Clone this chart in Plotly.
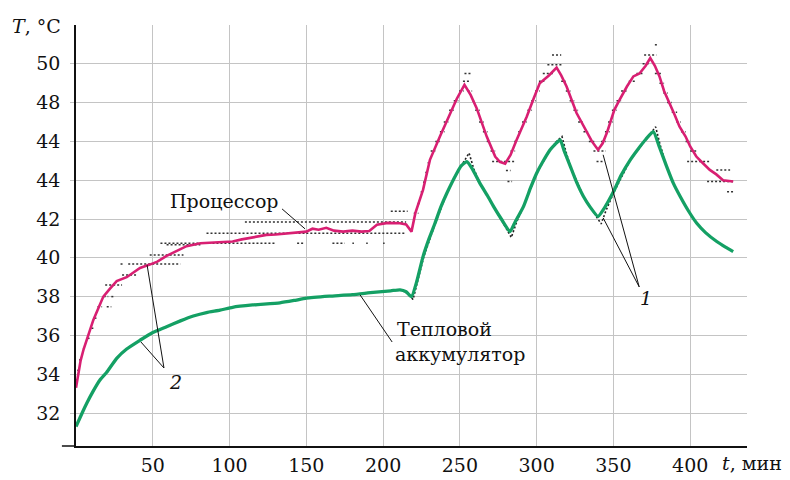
import plotly.graph_objects as go

# ---------------- data ----------------
# processor temperature (calculated, line 2)
proc_t = [0, 1.5, 3, 5, 7, 9, 11.3, 14, 17.8, 22, 26.5, 33, 38, 41.7, 48, 53, 59, 65, 72, 81, 90, 102,
          108, 111, 118, 124, 130, 137, 143, 150, 154, 158, 163, 168, 174, 180, 186, 191, 196, 203, 211,
          215, 218.5, 221, 226, 230.5, 237, 243.5, 248, 253, 257, 261, 267.5, 273, 276, 279.5, 283, 287,
          293.6, 298, 302, 308, 313, 316, 319.5, 326, 332.7, 336, 340, 343, 346, 350.6, 354, 358.8, 363,
          367, 371, 374, 377, 380, 383, 386.7, 390, 393, 397, 400, 404, 408, 412.8, 417, 421.4, 428]
proc_T = [33.3, 34.0, 34.7, 35.3, 35.76, 36.2, 36.8, 37.3, 38.0, 38.4, 38.8, 39.0, 39.3, 39.48, 39.65,
          39.8, 40.1, 40.35, 40.6, 40.75, 40.8, 40.84, 40.95, 41.0, 41.1, 41.18, 41.2, 41.25, 41.3, 41.35,
          41.5, 41.45, 41.55, 41.4, 41.35, 41.4, 41.35, 41.38, 41.7, 41.8, 41.78, 41.72, 41.35, 42.3, 43.5,
          45.05, 46.25, 47.46, 48.2, 48.92, 48.4, 47.7, 46.25, 45.22, 44.95, 44.85, 45.3, 46.08, 47.28,
          48.2, 49.0, 49.4, 49.8, 49.4, 48.83, 47.46, 46.43, 46.0, 45.57, 45.9, 46.5, 47.63, 48.14, 48.83,
          49.35, 49.5, 49.9, 50.3, 49.9, 49.35, 48.6, 47.97, 47.35, 46.77, 46.25, 45.74, 45.22, 44.9,
          44.53, 44.3, 44.0, 43.93]

# heat accumulator temperature (calculated, line 2)
acc_t = [0, 4, 7, 11, 15.6, 20, 26.5, 33, 41.7, 50, 59, 68, 76.4, 85, 93.8, 102, 115, 132.8, 142, 150,
         165, 180, 193.6, 205, 211, 215, 218.5, 222, 226, 230, 233.8, 237.5, 241.5, 248, 251, 254.5, 258,
         263, 268, 272, 277, 282.6, 286, 291.4, 296, 300, 304, 308.8, 312, 315.3, 318, 322, 326, 330.5,
         335, 340, 344, 350, 355, 361, 366, 371, 376, 380, 384.7, 389, 393.5, 399, 404.3, 410, 417.3,
         423, 428]
acc_T = [31.3, 32.0, 32.5, 33.1, 33.7, 34.1, 34.82, 35.3, 35.75, 36.15, 36.45, 36.75, 37.0, 37.18, 37.3,
         37.45, 37.57, 37.68, 37.8, 37.92, 38.02, 38.1, 38.22, 38.3, 38.35, 38.25, 38.0, 38.8, 40.06, 41.0,
         41.78, 42.6, 43.33, 44.36, 44.75, 44.96, 44.6, 43.85, 43.2, 42.64, 42.0, 41.35, 41.85, 42.64,
         43.6, 44.36, 44.95, 45.57, 45.85, 46.08, 45.5, 44.7, 43.9, 43.16, 42.6, 42.13, 42.55, 43.4,
         44.25, 45.05, 45.6, 46.1, 46.5, 45.7, 44.7, 43.85, 43.16, 42.4, 41.78, 41.3, 40.84, 40.55, 40.32]

# measured accumulator temperature (dotted, line 1)
meas_acc_t = [205, 212, 216, 219.5, 222.5, 226.5, 234, 241.5, 248, 252, 256, 259, 263, 272, 279, 283.5,
              287, 291.4, 300, 308.8, 313, 316.5, 319, 322, 330.5, 337, 342, 345, 350, 361, 371, 377.5,
              380.5, 384.7]
meas_acc_T = [38.3, 38.35, 38.15, 37.85, 38.8, 40.06, 41.78, 43.33, 44.36, 44.9, 45.4, 44.6, 43.85, 42.64,
              41.7, 41.05, 41.85, 42.64, 44.36, 45.57, 46.0, 46.25, 45.5, 44.7, 43.16, 42.35, 41.75, 42.4,
              43.33, 45.05, 46.1, 46.75, 45.8, 44.7]

# measured processor temperature (quantised readings, line 1): start, end, level
meas_t0 = [0, 0.8, 2, 4.5, 7.5, 10, 12, 14, 20, 18, 23, 19, 30, 29, 34, 48, 59,
           55, 85, 150, 110, 205, 144, 167, 180, 189, 200,
           220, 222.5, 224.5, 226, 227.5, 229, 231, 234, 237, 239.5, 243, 246, 249.5, 252, 253,
           255, 258, 260, 262.5, 265, 267.5, 270, 271, 280, 281,
           283, 285.5, 288, 290.5, 294, 296.5, 299, 301.5, 304, 307, 310,
           316, 319, 321.5, 324, 327, 330.5, 334, 337, 339,
           342, 344.5, 346.5, 349, 352, 355, 360, 365, 369, 370, 377,
           377, 380, 382.5, 385, 388, 391, 394, 397, 400, 398, 411, 417, 424]
meas_t1 = [1, 2, 3.5, 6.5, 9.5, 12, 14, 17, 23, 21, 25, 30, 40, 31, 68, 70, 81,
           130, 150, 215, 215, 216, 148, 175, 181, 190, 201,
           223, 225, 227, 228.5, 230, 231.5, 234, 237, 240, 242.5, 246, 249, 252.5, 256, 258,
           258, 260.5, 263, 265.5, 268, 270, 273, 286, 283, 284,
           286, 288, 290.5, 293.5, 297, 299.5, 302, 305, 311, 317, 316,
           319, 322, 324.5, 327, 330, 333.5, 337.5, 345, 343,
           345, 347.5, 349.5, 352, 355, 358.5, 364, 370, 373, 378, 378.5,
           381, 383, 385.5, 388, 391.5, 394, 397, 400, 404, 413, 429, 426, 428]
meas_T = [33.7, 34.2, 34.74, 35.33, 35.85, 36.37, 36.89, 37.48, 37.48, 38.0, 38.0, 38.6, 39.12, 39.68,
          39.68, 40.15, 40.67,
          40.75, 41.27, 41.27, 41.85, 42.4, 40.75, 40.75, 40.75, 40.75, 40.75,
          42.3, 42.8, 43.4, 43.9, 44.4, 44.9, 45.5, 46.0, 46.5, 47.0, 47.6, 48.1, 48.6, 49.1, 49.5,
          48.6, 48.1, 47.6, 47.0, 46.5, 46.0, 45.5, 44.96, 44.5, 43.93,
          45.5, 46.0, 46.5, 47.0, 47.6, 48.1, 48.6, 49.1, 49.5, 49.95, 50.46,
          49.1, 48.6, 48.1, 47.6, 47.0, 46.5, 46.0, 45.5, 44.96,
          46.0, 46.5, 47.0, 47.6, 48.1, 48.6, 49.1, 49.5, 50.0, 50.46, 50.98,
          49.5, 49.0, 48.5, 48.0, 47.5, 47.0, 46.5, 46.0, 45.5, 44.96, 43.93, 44.53, 43.4]

x_ticks = [50, 100, 150, 200, 250, 300, 350, 400]
y_ticks = [32, 34, 36, 38, 40, 42, 44, 46, 48, 50]
y_tick_text = ["32", "34", "36", "38", "40", "42", "44", "44", "48", "50"]

# ---------------- figure ----------------
FONT = "DejaVu Serif"
PINK = "#d81f72"
GREEN = "#14a064"

seg_x, seg_y = [], []
for a, b, v in zip(meas_t0, meas_t1, meas_T):
    seg_x += [a, b, None]
    seg_y += [v, v, None]

fig = go.Figure()
fig.add_trace(go.Scatter(x=seg_x, y=seg_y, mode="lines",
                         line=dict(color="#333333", width=1.5, dash="2px,2px"),
                         hoverinfo="skip", showlegend=False))
fig.add_trace(go.Scatter(x=meas_acc_t, y=meas_acc_T, mode="lines",
                         line=dict(color="#222222", width=1.6, dash="2px,2px"),
                         showlegend=False))
fig.add_trace(go.Scatter(x=acc_t, y=acc_T, mode="lines",
                         line=dict(color=GREEN, width=3.3, shape="spline", smoothing=0.5),
                         showlegend=False))
fig.add_trace(go.Scatter(x=proc_t, y=proc_T, mode="lines",
                         line=dict(color=PINK, width=2.6),
                         showlegend=False))

# leader lines
leaders = [
    (134.2, 42.52, 149.2, 41.49),   # Процессор
    (185.0, 38.09, 205.9, 35.66),   # Тепловой аккумулятор
    (57.3, 34.32, 46.3, 39.63),     # 2 -> processor
    (57.3, 34.32, 42.3, 35.66),     # 2 -> accumulator
    (366.8, 38.5, 343.3, 45.31),    # 1 -> processor
    (366.8, 38.5, 343.3, 42.06),    # 1 -> accumulator
]
shapes = [dict(type="line", xref="x", yref="y", x0=a, y0=b, x1=c, y1=d,
               line=dict(color="#111111", width=1)) for a, b, c, d in leaders]
# x axis line extending left of the y axis
shapes.append(dict(type="line", xref="paper", yref="paper", x0=-0.021, y0=0, x1=0, y1=0,
                   line=dict(color="#111111", width=1.5)))

tf = dict(family=FONT, size=19, color="#111111")
annotations = [
    dict(text="Процессор", x=97, y=42.93, xref="x", yref="y", showarrow=False, font=tf),
    dict(text="Тепловой", x=207.5, y=36.33, xref="x", yref="y", xanchor="left",
         showarrow=False, font=tf),
    dict(text="аккумулятор", x=206.5, y=35.04, xref="x", yref="y", xanchor="left",
         showarrow=False, font=tf),
    dict(text="<i>2</i>", x=65.1, y=33.6, xref="x", yref="y", showarrow=False, font=tf),
    dict(text="<i>1</i>", x=371.3, y=37.93, xref="x", yref="y", showarrow=False, font=tf),
    dict(text="<i>T</i>, °C", x=0, y=52, xref="paper", yref="y", xanchor="right",
         yanchor="middle", xshift=-13, yshift=-1, showarrow=False, font=tf),
    dict(text="<i>t</i>, мин", x=1.055, y=0, xref="paper", yref="paper", xanchor="right",
         yanchor="top", yshift=-4, showarrow=False, font=tf),
]

# the page body adds an 8 px offset, so the figure is sized/margined to compensate
fig.update_layout(
    width=782, height=472,
    margin=dict(l=68, r=43, t=17, b=34),
    paper_bgcolor="white", plot_bgcolor="white",
    font=tf,
    shapes=shapes, annotations=annotations,
    showlegend=False,
)
fig.update_xaxes(range=[0, 437], tickvals=x_ticks, ticktext=[str(v) for v in x_ticks],
                 showgrid=True, gridcolor="#c4c4c4", gridwidth=1,
                 showline=True, linecolor="#111111", linewidth=1.5,
                 ticks="", ticklabelstandoff=1, zeroline=False, automargin=False,
                 tickfont=tf)
fig.update_yaxes(range=[30.3, 52], tickvals=y_ticks, ticktext=y_tick_text,
                 showgrid=True, gridcolor="#c4c4c4", gridwidth=1,
                 showline=True, linecolor="#111111", linewidth=1.5,
                 ticks="outside", ticklen=4, tickcolor="#c4c4c4",
                 ticklabelstandoff=6, zeroline=False, automargin=False,
                 tickfont=tf)

fig.write_html("out.html")
